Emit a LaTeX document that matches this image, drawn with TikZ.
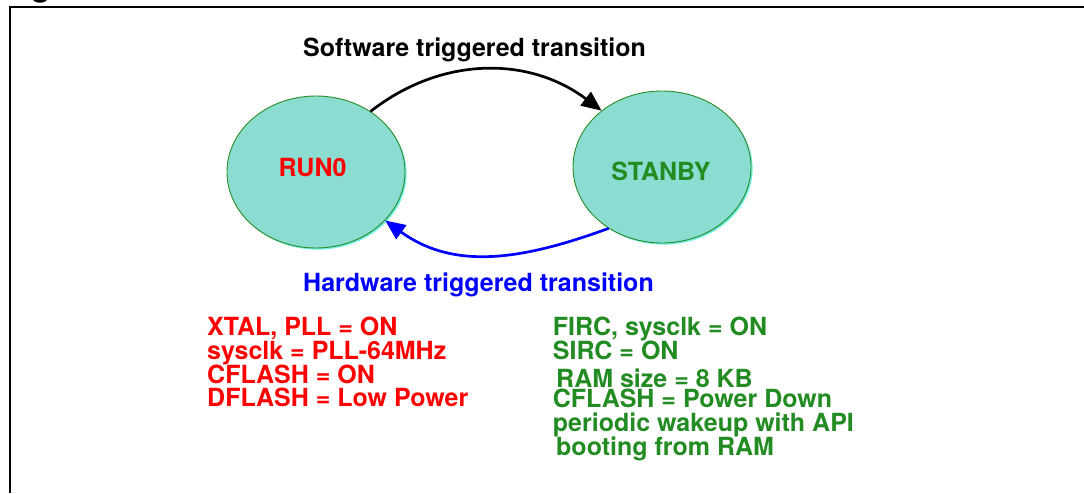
\documentclass[tikz,border=0pt]{standalone}
\usepackage{fontspec}
\setmainfont{TeX Gyre Heros}
\usetikzlibrary{shapes.geometric,arrows.meta,shadows}
\definecolor{statefill}{RGB}{138,221,208}
\definecolor{stateedge}{RGB}{40,140,40}
\definecolor{stateshadow}{RGB}{110,240,230}
\definecolor{runred}{RGB}{255,0,0}
\definecolor{sbgreen}{RGB}{34,139,34}
\definecolor{hwblue}{RGB}{0,0,255}
\begin{document}
\begin{tikzpicture}[x=1pt,y=1pt,
  state/.style={ellipse, draw=stateedge, line width=0.9pt, fill=statefill,
    minimum width=178pt, minimum height=152pt, inner sep=0pt,
    drop shadow={shadow xshift=1.6pt, shadow yshift=-1.6pt, fill=stateshadow, opacity=1}},
  txt/.style={font=\fontsize{25}{25}\selectfont\bfseries, inner sep=0pt, anchor=base west},
  ctxt/.style={font=\fontsize{25}{25}\selectfont\bfseries, inner sep=0pt, anchor=base},
  trans/.style={line width=2.7pt, -{Triangle[length=20pt,width=17pt]}}]
\useasboundingbox (0,0) rectangle (1084,-493);

% frame
\draw[line width=2.3pt] (10.2,-493) -- (10.2,-6.7) -- (1084,-6.7);
% descender of the caption above the frame
\begin{scope}
  \clip (0,0) rectangle (100,-10);
  \fill (40,1) ellipse (7 and 3.7);
\end{scope}

% states
\node[state] (run) at (316,-172) {};
\node[state] (stby) at (662,-167) {};
\node[ctxt, text=runred] (runlbl) at (312.5,-176) {RUN0};
\node[ctxt, text=sbgreen] (stbylbl) at (661,-180) {STANBY};

% transitions
\draw[trans, black] (run.48) to[out=38,in=143] (stby.137);
\draw[trans, hwblue] (stby.229) to[out=200,in=324] (run.325);

\node[txt] (swlbl) at (303,-56) {Software triggered transition};
\node[txt, text=hwblue] (hwlbl) at (303,-291) {Hardware triggered transition};

% RUN0 settings
\node[txt, text=runred] (r1) at (207,-335) {XTAL, PLL = ON};
\node[txt, text=runred] (r2) at (207,-359) {sysclk = PLL-64MHz};
\node[txt, text=runred] (r3) at (207,-383) {CFLASH = ON};
\node[txt, text=runred] (r4) at (207,-406) {DFLASH = Low Power};

% STANBY settings
\node[txt, text=sbgreen] (g1) at (552.7,-335) {FIRC, sysclk = ON};
\node[txt, text=sbgreen] (g2) at (552.7,-359) {SIRC = ON};
\node[txt, text=sbgreen] (g3) at (556,-387) {RAM size = 8 KB};
\node[txt, text=sbgreen] (g4) at (552.7,-407) {CFLASH = Power Down};
\node[txt, text=sbgreen] (g5) at (552.7,-431) {periodic wakeup with API};
\node[txt, text=sbgreen] (g6) at (556,-455) {booting from RAM};
\end{tikzpicture}
\end{document}
